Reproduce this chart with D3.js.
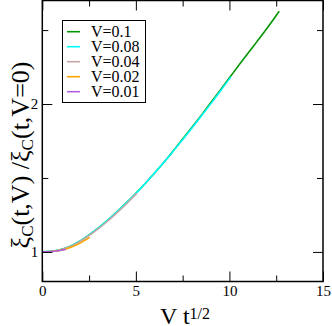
<!DOCTYPE html>
<html>
<head>
<meta charset="utf-8">
<script src="https://cdn.jsdelivr.net/npm/d3@7"></script>
<style>
  body { margin: 0; background: #fff; }
  svg { display: block; font-family: "Liberation Serif", "DejaVu Serif", serif; }
</style>
</head>
<body>
<div id="chart"></div>
<script>
const width = 332;
const height = 326;

// series data (x = V t^1/2, y = xi_C(t,V) / xi_C(t,V=0))
const labels = ["V=0.1", "V=0.08", "V=0.04", "V=0.02", "V=0.01"];
const colors = ["#009600", "#00ffff", "#c4a4a4", "#ffa500", "#b060e0"];

const x01 = [0, 0.5, 1, 1.5, 2, 2.5, 3, 3.5, 4, 4.5, 5, 5.5, 6, 6.5, 7, 7.5, 8, 8.5, 9, 9.5, 10, 10.5, 11, 11.5, 12, 12.5, 12.66];
const y01 = [1.000, 1.004, 1.016, 1.038, 1.072, 1.115, 1.163, 1.215, 1.272, 1.333, 1.397, 1.463, 1.533, 1.606, 1.684, 1.763, 1.843, 1.925, 2.008, 2.092, 2.177, 2.262, 2.345, 2.427, 2.51, 2.598, 2.627];

const x008 = [0, 0.5, 1, 1.5, 2, 2.5, 3, 3.5, 4, 4.5, 5, 5.5, 6, 6.5, 7, 7.5, 8, 8.5, 9, 9.5, 10, 10.08];
const y008 = [1.000, 1.004, 1.016, 1.038, 1.072, 1.115, 1.163, 1.215, 1.272, 1.333, 1.397, 1.463, 1.533, 1.606, 1.681, 1.759, 1.838, 1.919, 2.001, 2.085, 2.170, 2.183];

const x004 = [0, 0.5, 1, 1.5, 2, 2.5, 3, 3.5, 4, 4.5, 5, 5.06];
const y004 = [1.000, 1.003, 1.015, 1.036, 1.069, 1.111, 1.158, 1.209, 1.266, 1.326, 1.389, 1.396];

const x002 = [0, 0.5, 1, 1.5, 2, 2.53];
const y002 = [1.000, 1.003, 1.012, 1.030, 1.058, 1.098];

const x001 = [0, 0.25, 0.5, 0.75, 1, 1.27];
const y001 = [1.000, 1.001, 1.003, 1.006, 1.011, 1.018];

const xs = [x01, x008, x004, x002, x001];
const ys = [y01, y008, y004, y002, y001];

const xMajor = [0, 5, 10, 15];
const xMinor = [2.5, 7.5, 12.5];
const yMajor = [1, 2];
const yMinor = [1.5, 2.5];

const plotLeft = 42.3, plotRight = 323, plotTop = 0.5, plotBottom = 281.5;

const x = d3.scaleLinear().domain([0, 15]).range([plotLeft, plotRight]);
const y = d3.scaleLinear().domain([0.8, 2.7]).range([plotBottom, plotTop]);

const svg = d3.select("#chart").append("svg")
  .attr("width", width)
  .attr("height", height);

// curves
const line = d3.line()
  .x((d) => x(d[0]))
  .y((d) => y(d[1]))
  .curve(d3.curveMonotoneX);

svg.append("g")
  .selectAll("path")
  .data(labels.map((l, i) => d3.zip(xs[i], ys[i])))
  .enter()
  .append("path")
  .attr("d", line)
  .attr("fill", "none")
  .attr("stroke", (d, i) => colors[i])
  .attr("stroke-width", 1.6);

// ticks (inward, on all four sides)
const addAxis = (axis, tf, values, size, withLabels) => {
  const g = svg.append("g")
    .attr("transform", tf)
    .call(axis.tickValues(values).tickSize(-size).tickPadding(withLabels ? 4 : 0)
      .tickFormat(withLabels ? d3.format("d") : () => ""));
  g.select(".domain").remove();
  g.selectAll("line").attr("stroke", "#000").attr("stroke-width", 1);
  g.selectAll("text")
    .attr("font-family", "Liberation Serif")
    .attr("font-size", 15)
    .attr("fill", "#000");
  return g;
};

addAxis(d3.axisBottom(x), `translate(0,${plotBottom})`, xMajor, 10, true);
addAxis(d3.axisBottom(x), `translate(0,${plotBottom})`, xMinor, 6, false);
addAxis(d3.axisTop(x), `translate(0,${plotTop})`, xMajor, 10, false);
addAxis(d3.axisTop(x), `translate(0,${plotTop})`, xMinor, 6, false);
addAxis(d3.axisLeft(y), `translate(${plotLeft},0)`, yMajor, 10, true);
addAxis(d3.axisLeft(y), `translate(${plotLeft},0)`, yMinor, 6, false);
addAxis(d3.axisRight(y), `translate(${plotRight},0)`, yMajor, 10, false);
addAxis(d3.axisRight(y), `translate(${plotRight},0)`, yMinor, 6, false);

// frame
svg.append("rect")
  .attr("x", plotLeft)
  .attr("y", plotTop)
  .attr("width", plotRight - plotLeft)
  .attr("height", plotBottom - plotTop)
  .attr("fill", "none")
  .attr("stroke", "#000")
  .attr("stroke-width", 1.5);

// legend
const legend = svg.append("g");
legend.append("rect")
  .attr("x", 62.5).attr("y", 20.5)
  .attr("width", 83).attr("height", 82)
  .attr("fill", "#fff")
  .attr("stroke", "#000")
  .attr("stroke-width", 1);

labels.forEach((l, i) => {
  const ry = 31.7 + i * 15;
  legend.append("line")
    .attr("x1", 67).attr("x2", 80)
    .attr("y1", ry).attr("y2", ry)
    .attr("stroke", colors[i])
    .attr("stroke-width", 1.6);
  legend.append("text")
    .attr("x", 91)
    .attr("y", ry + 5.5)
    .attr("font-size", 16)
    .text(l);
});

// x label: V t^1/2
const xl = svg.append("text")
  .attr("x", 160)
  .attr("y", 324)
  .attr("font-size", 24);
xl.append("tspan").text("V t");
xl.append("tspan").attr("font-size", 16).attr("dy", -5).text("1/2");

// y label: xi_C(t,V) / xi_C(t,V=0)
const yl = svg.append("text")
  .attr("transform", "translate(29,155) rotate(-90)")
  .attr("text-anchor", "middle")
  .attr("font-size", 26);
yl.append("tspan").text("ξ");
yl.append("tspan").attr("font-size", 17).attr("dy", 4).text("C");
yl.append("tspan").attr("dy", -4).text("(t,V) /ξ");
yl.append("tspan").attr("font-size", 17).attr("dy", 4).text("C");
yl.append("tspan").attr("dy", -4).text("(t,V=0)");
</script>
</body>
</html>
